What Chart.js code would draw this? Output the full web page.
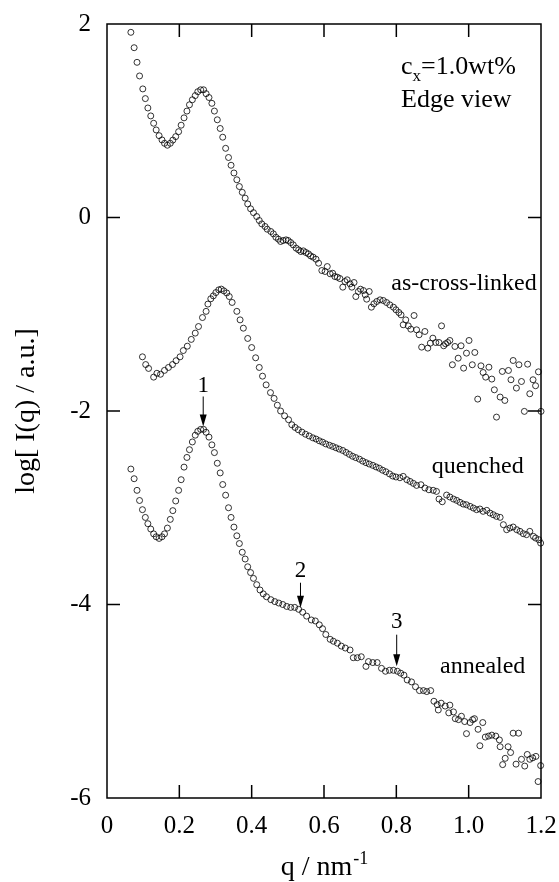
<!DOCTYPE html>
<html><head><meta charset="utf-8">
<script src="https://cdn.jsdelivr.net/npm/chart.js@4.4.1/dist/chart.umd.min.js"></script>
<style>html,body{margin:0;padding:0;background:#fff;}canvas{display:block;}</style>
</head><body>
<canvas id="c" width="559" height="882"></canvas>
<script>
// ---------- data (q in nm^-1, log I) ----------
const qCross = [0.066,0.075,0.083,0.090,0.099,0.106,0.113,0.121,0.129,0.136,0.144,0.152,0.159,0.167,0.175,0.182,0.190,0.198,0.205,0.213,0.221,0.228,0.236,0.244,0.251,0.259,0.267,0.274,0.282,0.290,0.297,0.305,0.313,0.320,0.328,0.336,0.343,0.351,0.359,0.366,0.374,0.382,0.389,0.397,
0.405,0.414,0.421,0.428,0.437,0.443,0.453,0.460,0.467,0.474,0.480,0.487,0.495,0.501,0.508,0.515,0.523,0.530,0.536,0.543,0.550,0.557,0.563,0.570,0.578,0.585,0.594,0.603,0.609,0.617,0.624,0.630,0.637,0.644,0.652,0.658,0.664,0.672,0.677,0.683,0.688,0.695,0.701,0.709,0.714,0.718,0.725,0.731,0.738,0.746,0.755,0.764,0.773,0.782,0.792,0.799,
0.807,0.813,0.819,0.826,0.833,0.840,0.849,0.856,0.863,0.870,0.879,0.887,0.894,0.901,0.909,0.918,0.925,0.931,0.936,0.942,0.948,0.955,0.962,0.971,0.979,0.986,0.994,1.001,1.010,1.017,1.025,1.034,1.040,1.047,1.056,1.064,1.071,1.077,1.087,1.093,1.100,1.110,1.117,1.123,1.132,1.139,1.146,1.154,1.163,1.169,1.178,1.185,1.193,1.200];
const vCross = [1.914,1.755,1.604,1.463,1.329,1.229,1.132,1.050,0.974,0.905,0.846,0.802,0.767,0.747,0.767,0.800,0.836,0.887,0.954,1.030,1.100,1.165,1.217,1.260,1.300,1.320,1.320,1.280,1.240,1.180,1.100,1.010,0.920,0.830,0.715,0.620,0.540,0.460,0.390,0.320,0.260,0.200,0.140,0.090,
0.050,0.010,-0.031,-0.066,-0.093,-0.121,-0.145,-0.169,-0.204,-0.224,-0.248,-0.238,-0.231,-0.238,-0.259,-0.283,-0.317,-0.335,-0.352,-0.345,-0.362,-0.376,-0.397,-0.410,-0.431,-0.472,-0.548,-0.558,-0.507,-0.582,-0.576,-0.610,-0.617,-0.631,-0.720,-0.662,-0.644,-0.686,-0.720,-0.672,-0.817,-0.765,-0.741,-0.755,-0.799,-0.844,-0.765,-0.927,-0.892,-0.868,-0.851,-0.858,-0.879,-0.903,-0.927,-0.954,
-0.982,-1.006,-1.109,-1.058,-1.120,-1.154,-1.013,-1.161,-1.212,-1.340,-1.178,-1.350,-1.299,-1.247,-1.292,-1.292,-1.120,-1.326,-1.305,-1.292,-1.271,-1.522,-1.333,-1.454,-1.326,-1.557,-1.402,-1.271,-1.522,-1.395,-1.877,-1.533,-1.602,-1.650,-1.547,-1.670,-1.781,-2.063,-1.856,-1.591,-1.891,-1.581,-1.677,-1.478,-1.763,-1.522,-1.695,-2.004,-1.516,-1.822,-1.677,-1.739,-1.595,-2.004];

const qQuench = [0.098,0.107,0.115,0.129,0.138,0.148,0.159,0.170,0.181,0.191,0.202,0.211,0.222,0.233,0.244,0.253,0.264,0.274,0.279,0.287,0.294,0.301,0.309,0.316,0.323,0.331,0.338,0.346,0.359,0.368,0.377,0.389,0.400,0.411,0.421,0.430,0.440,0.452,0.462,0.471,0.480,0.491,0.502,
0.511,0.520,0.529,0.539,0.549,0.559,0.569,0.578,0.587,0.596,0.605,0.615,0.624,0.633,0.642,0.652,0.661,0.670,0.679,0.688,0.698,0.707,0.716,0.725,0.735,0.744,0.753,0.762,0.771,0.781,0.790,0.799,0.810,0.819,0.829,0.838,0.847,0.856,
0.868,0.879,0.890,0.902,0.911,0.918,0.927,0.939,0.948,0.958,0.967,0.976,0.985,0.994,1.004,1.013,1.022,1.031,1.040,1.050,1.059,1.068,1.077,1.087,1.096,1.105,1.114,1.123,1.133,1.142,1.151,1.160,1.169,1.179,1.185,1.194,1.199];
const vQuench = [-1.44,-1.52,-1.56,-1.65,-1.61,-1.62,-1.58,-1.55,-1.52,-1.48,-1.44,-1.375,-1.33,-1.26,-1.195,-1.127,-1.034,-0.97,-0.895,-0.84,-0.81,-0.776,-0.748,-0.74,-0.758,-0.78,-0.817,-0.878,-0.97,-1.058,-1.144,-1.25,-1.344,-1.45,-1.55,-1.64,-1.73,-1.81,-1.87,-1.94,-2.0,-2.05,-2.09,
-2.142,-2.170,-2.194,-2.218,-2.240,-2.258,-2.277,-2.290,-2.308,-2.322,-2.340,-2.354,-2.366,-2.380,-2.394,-2.408,-2.428,-2.448,-2.468,-2.482,-2.498,-2.518,-2.534,-2.548,-2.562,-2.578,-2.592,-2.612,-2.628,-2.650,-2.672,-2.682,-2.690,-2.676,-2.710,-2.728,-2.748,-2.769,
-2.762,-2.796,-2.814,-2.820,-2.831,-2.910,-2.938,-2.869,-2.889,-2.910,-2.924,-2.944,-2.962,-2.969,-2.986,-3.003,-3.020,-3.013,-3.037,-3.027,-3.055,-3.072,-3.089,-3.099,-3.175,-3.227,-3.210,-3.199,-3.227,-3.244,-3.268,-3.278,-3.244,-3.296,-3.313,-3.330,-3.365];

const qAnneal = [0.066,0.075,0.083,0.090,0.098,0.106,0.113,0.121,0.129,0.136,0.144,0.152,0.159,0.167,0.175,0.182,0.190,0.198,0.205,0.213,0.221,0.228,0.236,0.244,0.251,0.259,0.267,0.274,0.282,0.290,0.297,0.305,0.313,0.320,0.328,0.336,0.343,0.351,0.359,0.366,0.374,0.382,0.389,0.397,
0.405,0.414,0.423,0.432,0.441,0.453,0.464,0.475,0.486,0.497,0.508,0.519,0.530,0.541,0.552,
0.565,0.576,0.587,0.596,0.605,0.617,0.626,0.637,0.648,0.659,0.672,0.681,0.692,0.703,0.716,0.723,0.735,0.747,0.759,0.770,0.781,0.792,0.803,0.812,0.821,0.830,0.842,0.853,0.864,0.875,0.884,0.895,0.904,0.913,0.916,0.924,0.935,0.945,0.948,0.958,0.963,0.972,0.980,0.989,0.994,1.004,1.011,1.016,1.026,1.031,1.039,1.046,1.055,1.064,1.075,1.085,1.087,1.094,1.101,1.109,1.116,1.123,1.131,1.138,1.146,1.155,1.162,1.169,1.177,1.186,1.192,1.199];
const vAnneal = [-2.60,-2.70,-2.82,-2.925,-3.02,-3.10,-3.165,-3.22,-3.27,-3.30,-3.317,-3.30,-3.27,-3.21,-3.12,-3.03,-2.93,-2.82,-2.71,-2.58,-2.48,-2.40,-2.32,-2.25,-2.21,-2.19,-2.19,-2.22,-2.27,-2.35,-2.43,-2.54,-2.64,-2.76,-2.87,-3.00,-3.10,-3.20,-3.29,-3.37,-3.46,-3.53,-3.61,-3.67,
-3.73,-3.795,-3.85,-3.89,-3.92,-3.95,-3.97,-3.985,-4.00,-4.02,-4.03,-4.03,-4.05,-4.08,-4.12,
-4.16,-4.17,-4.21,-4.25,-4.31,-4.36,-4.38,-4.40,-4.43,-4.45,-4.47,-4.55,-4.55,-4.54,-4.64,-4.59,-4.60,-4.60,-4.66,-4.69,-4.68,-4.68,-4.69,-4.71,-4.73,-4.78,-4.80,-4.85,-4.89,-4.89,-4.90,-4.89,-5.00,-5.035,-5.09,-5.02,-5.05,-5.12,-5.04,-5.11,-5.18,-5.19,-5.155,-5.21,-5.335,-5.22,-5.19,-5.18,-5.29,-5.46,-5.22,-5.37,-5.36,-5.35,-5.36,-5.40,-5.47,-5.655,-5.59,-5.47,-5.53,-5.33,-5.65,-5.33,-5.60,-5.67,-5.55,-5.60,-5.585,-5.57,-5.83,-5.665];

const xTickLabels = ['0','0.2','0.4','0.6','0.8','1.0','1.2'];
const yTickLabels = ['-6','-4','-2','0','2'];

// annotations (anchored in data coordinates)
const seriesNotes = [
  {text:'as-cross-linked', q:1.188, v:-0.753, align:'right'},
  {text:'quenched', q:0.898, v:-2.638, align:'left'},
  {text:'annealed', q:0.921, v:-4.705, align:'left'}
];
const peakMarks = [
  {label:'1', q:0.266, vText:-1.80, vFrom:-1.85, vTo:-2.16},
  {label:'2', q:0.535, vText:-3.713, vFrom:-3.775, vTo:-4.033},
  {label:'3', q:0.801, vText:-4.24, vFrom:-4.312, vTo:-4.639}
];

const SERIF = '"Liberation Serif", "Times New Roman", serif';
function pts(qs, vs){ return qs.map((q,i)=>({x:q, y:vs[i]})); }
function ds(label, qs, vs){
  return {label, data:pts(qs,vs), showLine:false, pointStyle:'circle', pointRadius:3, pointHoverRadius:3,
    borderColor:'#000', backgroundColor:'rgba(0,0,0,0)', pointBorderWidth:0.8, borderWidth:0.8, clip:false};
}

const framePlugin = {
  id:'frame',
  beforeDatasetsDraw(chart){
    const {ctx, chartArea:a, scales:{x,y}} = chart;
    ctx.save();
    ctx.strokeStyle='#000'; ctx.lineWidth=1.5;
    ctx.strokeRect(a.left, a.top, a.right-a.left, a.bottom-a.top);
    const L=13;
    ctx.beginPath();
    x.ticks.forEach(t=>{const p=x.getPixelForValue(t.value); if(p<=a.left+1||p>=a.right-1)return;
      ctx.moveTo(p,a.bottom); ctx.lineTo(p,a.bottom-L); ctx.moveTo(p,a.top); ctx.lineTo(p,a.top+L);});
    y.ticks.forEach(t=>{const p=y.getPixelForValue(t.value); if(p<=a.top+1||p>=a.bottom-1)return;
      ctx.moveTo(a.left,p); ctx.lineTo(a.left+L,p); ctx.moveTo(a.right,p); ctx.lineTo(a.right-L,p);});
    ctx.stroke();
    ctx.restore();
  },
  afterDraw(chart){
    const {ctx, chartArea:a, scales:{x,y}} = chart;
    ctx.save();
    ctx.fillStyle='#000'; ctx.strokeStyle='#000';
    ctx.textBaseline='alphabetic';
    ctx.font='24px '+SERIF;
    seriesNotes.forEach(n=>{ctx.textAlign=n.align; ctx.fillText(n.text, x.getPixelForValue(n.q), y.getPixelForValue(n.v));});
    ctx.textAlign='left';
    let px=x.getPixelForValue(0.813), py=y.getPixelForValue(1.483);
    ctx.font='26px '+SERIF; ctx.fillText('c',px,py); px+=ctx.measureText('c').width;
    ctx.font='17px '+SERIF; ctx.fillText('x',px,py+7); px+=ctx.measureText('x').width;
    ctx.font='26px '+SERIF; ctx.fillText('=1.0wt%',px,py);
    ctx.fillText('Edge view', x.getPixelForValue(0.813), y.getPixelForValue(1.143));
    peakMarks.forEach(m=>{
      const cx=x.getPixelForValue(m.q);
      ctx.font='23px '+SERIF; ctx.textAlign='center';
      ctx.fillText(m.label, cx, y.getPixelForValue(m.vText));
      const y0=y.getPixelForValue(m.vFrom), y1=y.getPixelForValue(m.vTo);
      ctx.lineWidth=1;
      ctx.beginPath(); ctx.moveTo(cx,y0); ctx.lineTo(cx,y1-8); ctx.stroke();
      ctx.beginPath(); ctx.moveTo(cx,y1); ctx.lineTo(cx-3.5,y1-12); ctx.lineTo(cx+3.5,y1-12); ctx.closePath(); ctx.fill();
    });
    const cxT=(a.left+a.right)/2, base=875;
    ctx.font='28px '+SERIF; const w1=ctx.measureText('q / nm').width;
    ctx.font='18px '+SERIF; const w2=ctx.measureText('-1').width;
    let sx=cxT-(w1+w2)/2;
    ctx.textAlign='left';
    ctx.font='28px '+SERIF; ctx.fillText('q / nm',sx,base);
    ctx.font='18px '+SERIF; ctx.fillText('-1',sx+w1+1,base-11);
    ctx.restore();
  }
};

new Chart(document.getElementById('c'), {
  type:'scatter',
  data:{datasets:[ds('as-cross-linked',qCross,vCross), ds('quenched',qQuench,vQuench), ds('annealed',qAnneal,vAnneal)]},
  options:{
    responsive:false, animation:false, devicePixelRatio:1,
    layout:{padding:{top:24,right:18,left:0,bottom:0}},
    plugins:{legend:{display:false}, tooltip:{enabled:false}},
    scales:{
      x:{type:'linear', min:0, max:1.2,
        ticks:{stepSize:0.2, padding:5, color:'#000', font:{family:SERIF,size:25}, maxRotation:0, autoSkip:false,
          callback:(v,i)=>xTickLabels[i]},
        grid:{display:false}, border:{display:false},
        afterFit:s=>{s.height=84; s.paddingLeft=0; s.paddingRight=0;}},
      y:{type:'linear', min:-6, max:2,
        ticks:{stepSize:2, padding:8, color:'#000', font:{family:SERIF,size:25}, autoSkip:false,
          callback:(v,i)=>yTickLabels[i]},
        grid:{display:false}, border:{display:false},
        title:{display:true, text:'log[ I(q) / a.u.]', color:'#000', font:{family:SERIF,size:28}, padding:{top:10,bottom:0}},
        afterFit:s=>{s.width=107; s.paddingTop=0; s.paddingBottom=0;}}
    }
  },
  plugins:[framePlugin]
});
</script>
</body></html>
